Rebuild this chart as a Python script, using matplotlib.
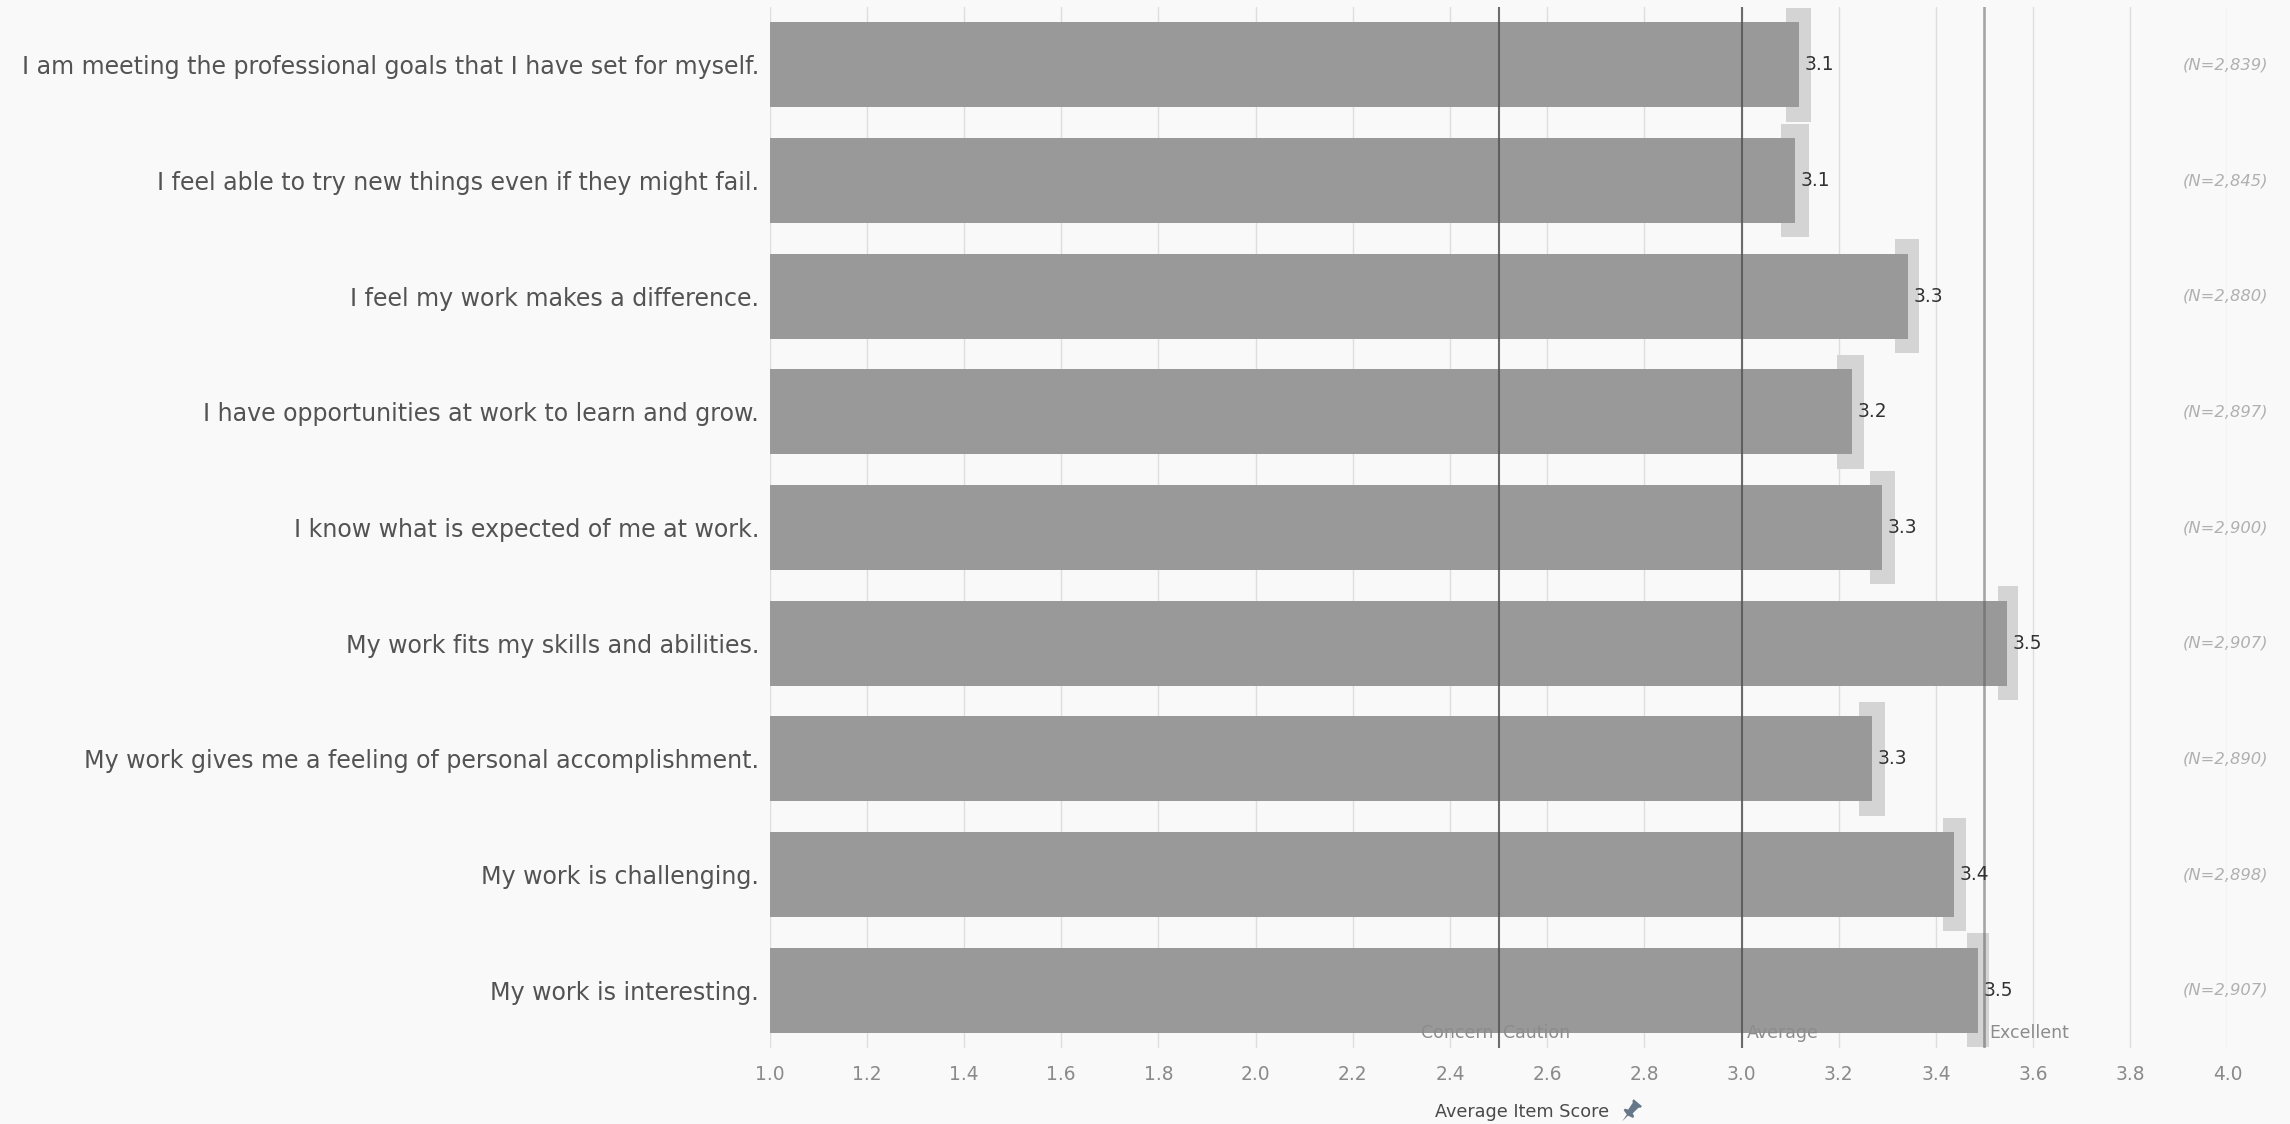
import matplotlib
matplotlib.use("Agg")
import matplotlib.pyplot as plt
import matplotlib.transforms as mtransforms
from matplotlib.patches import Polygon
import numpy as np

# Survey items (top to bottom) and their results
items = [
    "I am meeting the professional goals that I have set for myself.",
    "I feel able to try new things even if they might fail.",
    "I feel my work makes a difference.",
    "I have opportunities at work to learn and grow.",
    "I know what is expected of me at work.",
    "My work fits my skills and abilities.",
    "My work gives me a feeling of personal accomplishment.",
    "My work is challenging.",
    "My work is interesting.",
]
scores = [3.118, 3.111, 3.342, 3.227, 3.290, 3.546, 3.269, 3.438, 3.487]
ci_low = [3.091, 3.082, 3.316, 3.197, 3.264, 3.527, 3.241, 3.415, 3.465]
ci_high = [3.144, 3.138, 3.365, 3.253, 3.315, 3.570, 3.296, 3.463, 3.510]
n_resp = [2839, 2845, 2880, 2897, 2900, 2907, 2890, 2898, 2907]

# Benchmark reference lines
ref_values = [2.5, 3.0, 3.5]
ref_left_labels = ["Concern", "", ""]
ref_right_labels = ["Caution", "Average", "Excellent"]

x_ticks = [1.0, 1.2, 1.4, 1.6, 1.8, 2.0, 2.2, 2.4, 2.6, 2.8, 3.0, 3.2, 3.4, 3.6, 3.8, 4.0]
x_title = "Average Item Score"

BG = "#f9f9f9"
W, H = 2290, 1124
L, R, T, B = 769.7, 2227.4, 7.0, 1048.0

fig = plt.figure(figsize=(W / 100, H / 100), dpi=100, facecolor=BG)
ax = fig.add_axes([L / W, 1 - B / H, (R - L) / W, (B - T) / H])
ax.set_facecolor(BG)

ypos = np.arange(len(items))
lo = np.array(ci_low)
hi = np.array(ci_high)

# confidence band behind each bar
ax.barh(ypos, hi - lo, left=lo, height=0.985, color="#d4d4d4", zorder=2)
# mean score bars
ax.barh(ypos, scores, height=0.735, color="#999999", zorder=3)

ax.set_xlim(1.0, 4.0)
ax.set_ylim(len(items) - 0.5, -0.5)

ax.set_xticks(x_ticks)
ax.set_xticklabels([f"{t:.1f}" for t in x_ticks])
ax.set_yticks(ypos)
ax.set_yticklabels(items)
ax.grid(axis="x", color="#dedede", lw=1.0, zorder=0)
ax.grid(axis="y", visible=False)
ax.set_axisbelow(True)
for s in ax.spines.values():
    s.set_visible(False)

ax.tick_params(axis="x", length=0, pad=12, labelsize=13.4, labelcolor="#8a8a8a")
ax.tick_params(axis="y", length=0, pad=7.7, labelsize=17.15, labelcolor="#535353")

# reference lines
ref_styles = {2.5: ("#555555", 1.5, 0.85), 3.0: ("#555555", 1.5, 0.85), 3.5: ("#606060", 1.9, 0.55)}
for v, ll, rl in zip(ref_values, ref_left_labels, ref_right_labels):
    c, lw, a = ref_styles[v]
    ax.axvline(v, color=c, lw=lw, alpha=a, zorder=4)
    if ll:
        ax.annotate(ll, xy=(v, 0), xycoords=("data", "axes fraction"),
                    xytext=(-3.5, 10.8), textcoords="offset points",
                    ha="right", va="center", fontsize=12.5, color="#8c8c8c", zorder=6)
    if rl:
        ax.annotate(rl, xy=(v, 0), xycoords=("data", "axes fraction"),
                    xytext=(3.5, 10.8), textcoords="offset points",
                    ha="left", va="center", fontsize=12.5, color="#8c8c8c", zorder=6)

# value labels at bar ends
for yi, v in zip(ypos, scores):
    ax.annotate(f"{v:.1f}", xy=(v, yi), xytext=(4, 0), textcoords="offset points",
                ha="left", va="center", fontsize=13.4, color="#333333", zorder=6)

# response counts on the right
trans = mtransforms.blended_transform_factory(ax.transAxes, ax.transData)
for yi, n in zip(ypos, n_resp):
    ax.text(1.0279, yi, f"(N={n:,})", transform=trans, ha="right", va="center",
            fontsize=11.8, style="italic", color="#b0b0b0", clip_on=False, zorder=6)

# axis title with pin icon
fig.text(1435 / W, 1 - 1112 / H, x_title, ha="left", va="center",
         fontsize=12.7, color="#4a4a4a")

cx, cy = 1630.0, 1112.0
ang = np.deg2rad(-40)
pin_local = 1.35 * np.array([
    [0.0, -9.0], [0.6, -3.0], [4.5, -2.0], [4.5, -0.5], [2.2, 0.5], [2.8, 6.5],
    [4.0, 7.5], [4.0, 9.0], [-4.0, 9.0], [-4.0, 7.5], [-2.8, 6.5], [-2.2, 0.5],
    [-4.5, -0.5], [-4.5, -2.0], [-0.6, -3.0],
])
rot = np.array([[np.cos(ang), -np.sin(ang)], [np.sin(ang), np.cos(ang)]])
pts = pin_local @ rot.T
pts_fig = np.column_stack([(cx + pts[:, 0]) / W, 1 - (cy - pts[:, 1]) / H])
fig.add_artist(Polygon(pts_fig, closed=True, transform=fig.transFigure,
                       facecolor="#66778a", edgecolor="none"))

fig.savefig("out.png", dpi=100, facecolor=BG)
